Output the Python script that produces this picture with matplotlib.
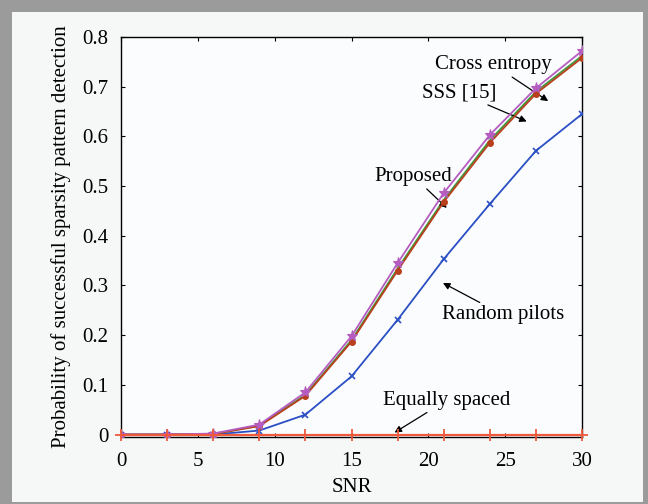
import numpy as np
import matplotlib.pyplot as plt
from matplotlib.patches import Rectangle

#==================================DATA========================================#

snr = [0, 3, 6, 9, 12, 15, 18, 21, 24, 27, 30]

cross_entropy = [0, 0, 0.002, 0.020, 0.085, 0.198, 0.345, 0.486, 0.603, 0.697, 0.772]
sss_15 = [0, 0, 0.001, 0.018, 0.080, 0.190, 0.334, 0.472, 0.592, 0.690, 0.762]
proposed = [0, 0, 0.001, 0.017, 0.078, 0.187, 0.330, 0.468, 0.587, 0.686, 0.758]
random_pilots = [0, 0, 0, 0.008, 0.040, 0.117, 0.231, 0.353, 0.464, 0.571, 0.645]
equally_spaced = [0, 0, 0, 0, 0, 0, 0, 0, 0, 0, 0]

x_ticks = [0, 5, 10, 15, 20, 25, 30]
y_ticks = [0, 0.1, 0.2, 0.3, 0.4, 0.5, 0.6, 0.7, 0.8]
y_tick_labels = ["0", "0.1", "0.2", "0.3", "0.4", "0.5", "0.6", "0.7", "0.8"]

#==================================PLOT========================================#

plt.rcParams["font.family"] = ["Liberation Serif", "DejaVu Serif"]
plt.rcParams["font.size"] = 15

fig = plt.figure(figsize=(6.48, 5.04), dpi=100, facecolor="#9b9b9b")
# light inner panel inside the grey frame
fig.patches.append(Rectangle((12 / 648, 2 / 504), 631 / 648, 490 / 504,
                             transform=fig.transFigure, facecolor="#f6f7f7",
                             edgecolor="none", zorder=-10))

ax = fig.add_axes([0.1867, 0.1329, 0.7115, 0.7937])
ax.set_facecolor("#fbfcfd")

ax.plot(snr, random_pilots, color="#2a4fc4", lw=1.3, marker="x", ms=5, mew=1.2, zorder=3)
ax.plot(snr, sss_15, color="#3c9a3c", lw=1.3, zorder=3)
ax.plot(snr, proposed, color="#b8401c", lw=1.3, marker="o", ms=4, zorder=4)
ax.plot(snr, cross_entropy, color="#b55cc0", lw=1.3, marker="*", ms=8, mew=0.8, zorder=5)
ax.plot(snr, equally_spaced, color="#ef5a3c", lw=1.6, marker="+", ms=8, mew=1.3, zorder=6,
        clip_on=False)

arrow = dict(arrowstyle="-|>", color="black", lw=0.9, mutation_scale=10, shrinkA=0, shrinkB=0)
ax.annotate("Cross entropy", xy=(27.8, 0.671), xytext=(24.25, 0.744),
            ha="center", va="center", arrowprops=arrow)
ax.annotate("SSS [15]", xy=(26.4, 0.630), xytext=(22.0, 0.688),
            ha="center", va="center", arrowprops=arrow)
ax.annotate("Proposed", xy=(21.2, 0.456), xytext=(19.05, 0.519),
            ha="center", va="center", arrowprops=arrow)
ax.annotate("Random pilots", xy=(20.95, 0.305), xytext=(24.85, 0.241),
            ha="center", va="center", arrowprops=arrow)
ax.annotate("Equally spaced", xy=(17.8, 0.004), xytext=(21.2, 0.069),
            ha="center", va="center", arrowprops=arrow)

ax.set_xlim(0, 30)
ax.set_ylim(-0.005, 0.8)
ax.set_xticks(x_ticks)
ax.set_yticks(y_ticks)
ax.set_yticklabels(y_tick_labels)
ax.tick_params(direction="in", length=3, top=True, right=True, pad=9)
ax.tick_params(axis="x", pad=11)
for s in ax.spines.values():
    s.set_linewidth(1.0)
ax.set_xlabel("SNR", labelpad=5)
ax.set_ylabel("Probability of successful sparsity pattern detection", labelpad=8)

fig.savefig("out.png", dpi=100, facecolor=fig.get_facecolor())
